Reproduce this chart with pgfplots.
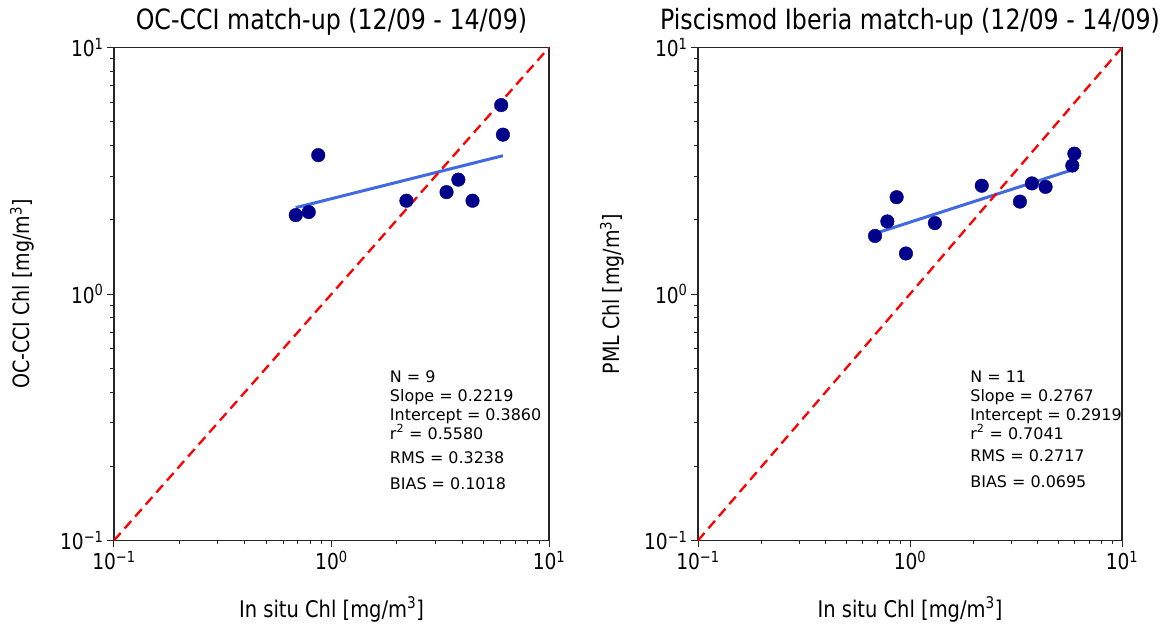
\documentclass[border=0pt]{standalone}
\usepackage{fontspec}
\setmainfont{DejaVu Sans}[FakeStretch=0.85]
\newfontfamily\boxfont{DejaVu Sans}
\usepackage{pgfplots}
\pgfplotsset{compat=1.18}
\definecolor{ptnavy}{RGB}{0,0,139}
\definecolor{fitblue}{RGB}{65,105,225}

\pgfplotsset{
  every axis/.append style={
    scale only axis, height=493bp,
    xmin=0.1, xmax=10, ymin=0.1, ymax=10,
    xtick={0.1,1,10}, ytick={0.1,1,10},
    xticklabels={10\textsuperscript{−1},10\textsuperscript{0},10\textsuperscript{1}},
    yticklabels={10\textsuperscript{−1},10\textsuperscript{0},10\textsuperscript{1}},
    minor xtick={0.2,0.3,0.4,0.5,0.6,0.7,0.8,0.9,2,3,4,5,6,7,8,9},
    minor ytick={0.2,0.3,0.4,0.5,0.6,0.7,0.8,0.9,2,3,4,5,6,7,8,9},
    tick align=outside, xtick pos=left, ytick pos=left,
    major tick length=7bp, minor tick length=4bp,
    tick style={black!85, line width=1bp},
    axis line style={black!85, line width=1.3bp},
    tick label style={font=\fontsize{22}{22}\selectfont},
    xlabel style={font=\fontsize{23}{25}\selectfont,
                  at={(axis description cs:0.5,-0.14)}, anchor=center},
    ylabel style={font=\fontsize{22.5}{25}\selectfont},
    title style={at={(axis description cs:0.5,1)}, anchor=south, yshift=3bp,
                 font=\fontsize{28}{30}\selectfont},
  },
}
\tikzset{statbox/.style={anchor=north west, align=left, inner sep=0pt,
              font=\boxfont\fontsize{16}{19}\selectfont}}

\begin{document}
\begin{tikzpicture}
\useasboundingbox (-114bp,-90bp) rectangle (1046bp,540.5bp);

\begin{loglogaxis}[at={(0bp,0bp)}, anchor=south west, width=435bp,
  title={OC-CCI match-up (12/09 - 14/09)},
  xlabel={In situ Chl [mg/m\textsuperscript{3}]},
  ylabel={OC-CCI Chl [mg/m\textsuperscript{3}]},
  ylabel style={at={(axis description cs:-0.212,0.5)}, anchor=center},
]
\addplot[only marks, mark=*, mark size=6.8bp, ptnavy] coordinates {
  (0.685,2.09) (0.786,2.15) (0.869,3.66) (2.21,2.39) (3.38,2.59)
  (3.83,2.91) (4.45,2.39) (6.03,5.84) (6.14,4.43)
};
\addplot[fitblue, line width=3bp, no marks] coordinates {(0.685,2.24) (6.14,3.64)};
\addplot[red, line width=2.3bp, dash pattern=on 10bp off 6bp, no marks] coordinates {(0.1,0.1) (10,10)};
\node[statbox] at (rel axis cs:0.634,0.345) {N = 9\\Slope = 0.2219\\Intercept = 0.3860\\r\textsuperscript{2} = 0.5580\\[5bp]RMS = 0.3238\\[7bp]BIAS = 0.1018};
\end{loglogaxis}

\begin{loglogaxis}[at={(584bp,0bp)}, anchor=south west, width=424bp,
  title={Piscismod Iberia match-up (12/09 - 14/09)},
  xlabel={In situ Chl [mg/m\textsuperscript{3}]},
  ylabel={PML Chl [mg/m\textsuperscript{3}]},
  ylabel style={at={(axis description cs:-0.203,0.5)}, anchor=center},
]
\addplot[only marks, mark=*, mark size=6.8bp, ptnavy] coordinates {
  (0.684,1.72) (0.782,1.97) (0.865,2.47) (0.957,1.46) (1.31,1.94)
  (2.18,2.75) (3.30,2.37) (3.76,2.81) (4.36,2.72) (5.83,3.32) (5.96,3.71)
};
\addplot[fitblue, line width=3bp, no marks] coordinates {(0.684,1.76) (5.96,3.21)};
\addplot[red, line width=2.3bp, dash pattern=on 10bp off 6bp, no marks] coordinates {(0.1,0.1) (10,10)};
\node[statbox] at (rel axis cs:0.642,0.345) {N = 11\\Slope = 0.2767\\Intercept = 0.2919\\r\textsuperscript{2} = 0.7041\\[4bp]RMS = 0.2717\\[7bp]BIAS = 0.0695};
\end{loglogaxis}
\end{tikzpicture}
\end{document}
